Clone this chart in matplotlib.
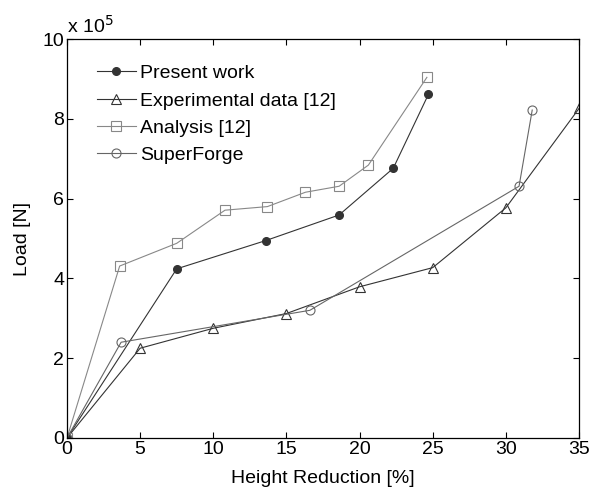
import numpy as np
import matplotlib
matplotlib.use("Agg")
import matplotlib.pyplot as plt

plt.rcParams['font.family'] = ['Liberation Sans', 'DejaVu Sans']

# --- data (load in units of 1e5 N) ---
present_x = [0, 7.5, 13.6, 18.6, 22.3, 24.7]
present_y = [0, 4.24, 4.95, 5.59, 6.76, 8.61]

exp_x = [0, 5, 10, 15, 20, 25, 30, 35]
exp_y = [0, 2.25, 2.75, 3.12, 3.79, 4.27, 5.77, 8.26]

ana_x = [0, 3.6, 7.5, 10.8, 13.7, 16.3, 18.6, 20.6, 24.6]
ana_y = [0, 4.31, 4.88, 5.71, 5.80, 6.16, 6.31, 6.84, 9.04]

sf_x = [0, 3.7, 16.6, 30.9, 31.8]
sf_y = [0, 2.40, 3.20, 6.31, 8.22]

fig = plt.figure(figsize=(5.94, 4.88), dpi=100)
ax = fig.add_axes([0.1128, 0.1025, 0.862, 0.8175])

lw = 0.8
ax.plot(present_x, present_y, '-o', color='#333333', lw=lw, ms=5.5,
        mfc='#333333', mec='#333333', label='Present work')
ax.plot(exp_x, exp_y, '-^', color='#333333', lw=lw, ms=7,
        mfc='none', mec='#333333', mew=0.8, label='Experimental data [12]')
ax.plot(ana_x, ana_y, '-s', color='#888888', lw=lw, ms=6.5,
        mfc='none', mec='#888888', mew=0.8, label='Analysis [12]')
ax.plot(sf_x, sf_y, '-o', color='#666666', lw=lw, ms=6.5,
        mfc='none', mec='#666666', mew=0.8, label='SuperForge')

ax.set_xlim(0, 35)
ax.set_ylim(0, 10)
ax.set_xticks(np.arange(0, 36, 5))
ax.set_yticks(np.arange(0, 11, 2))
ax.tick_params(direction='in', top=True, right=True, length=4, width=0.8,
               labelsize=14, pad=2)
for s in ax.spines.values():
    s.set_linewidth(0.9)

ax.set_xlabel('Height Reduction [%]', fontsize=14, labelpad=9)
ax.set_ylabel('Load [N]', fontsize=14, labelpad=8)
ax.text(0.0, 1.005, r'x 10$^{5}$', transform=ax.transAxes, fontsize=14,
        ha='left', va='bottom')

ax.legend(loc='upper left', frameon=False, fontsize=14, handlelength=2.0,
          handletextpad=0.2, labelspacing=0.5, borderaxespad=0.4,
          bbox_to_anchor=(0.028, 0.975))

fig.savefig('out.png', dpi=100)
